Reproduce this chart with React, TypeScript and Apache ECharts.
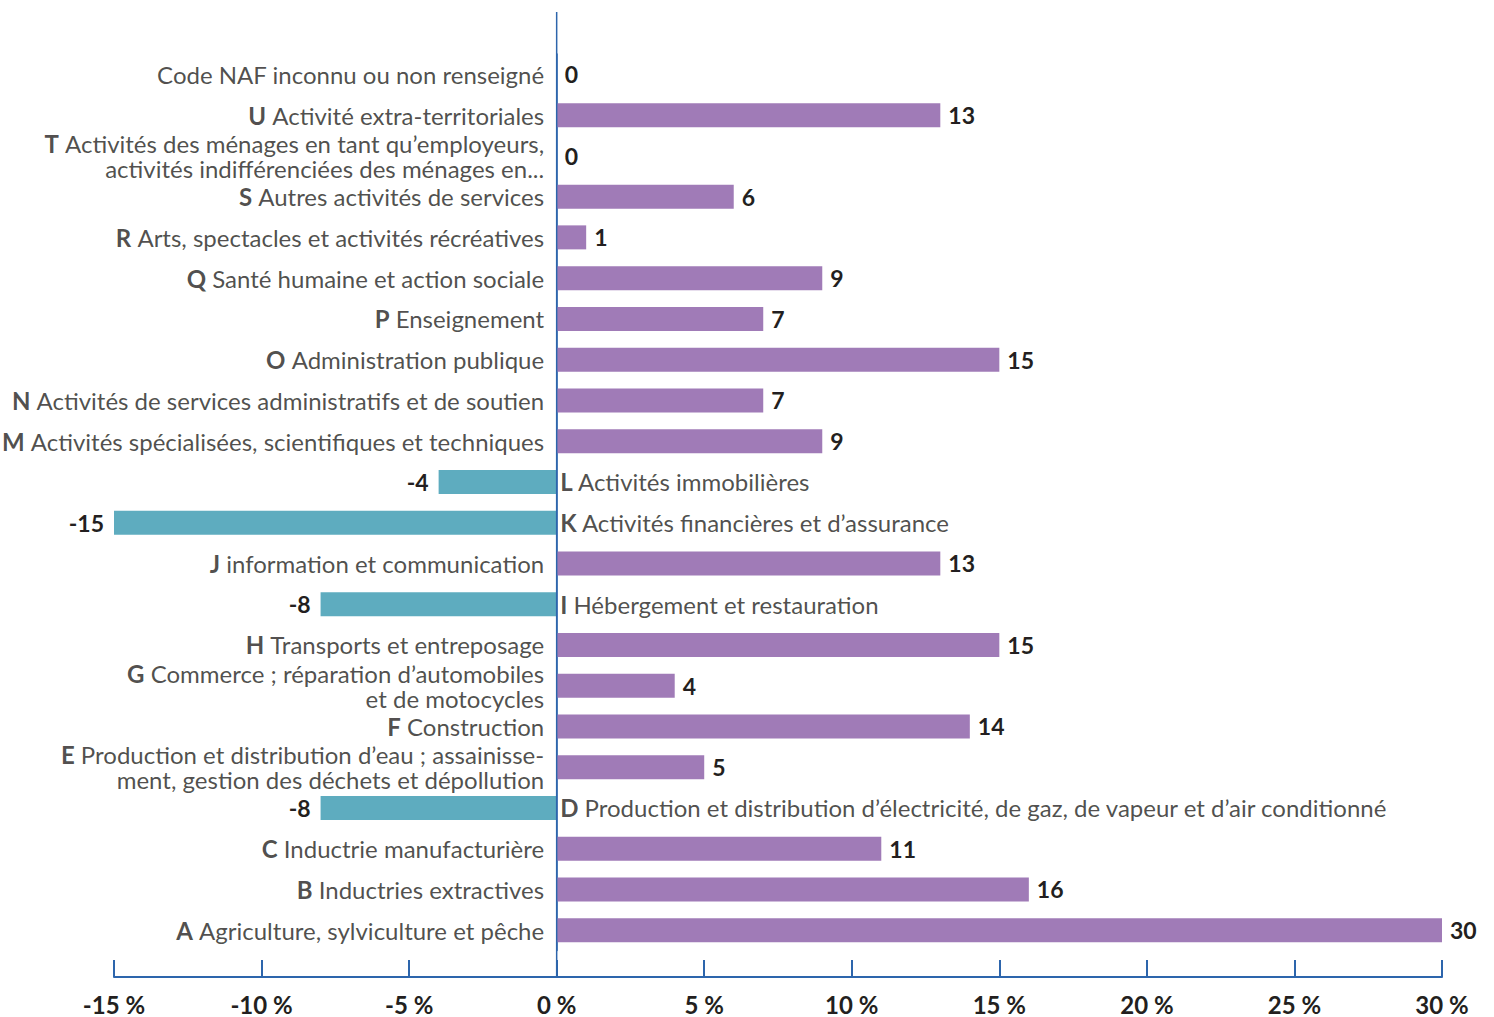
import React, { useEffect, useRef } from 'react';
import * as echarts from 'echarts';

// Section codes (NAF), top to bottom
const codes = ['', 'U', 'T', 'S', 'R', 'Q', 'P', 'O', 'N', 'M', 'L', 'K', 'J', 'I', 'H', 'G', 'F', 'E', 'D', 'C', 'B', 'A'];
// Section names
const names = [
  'Code NAF inconnu ou non renseigné',
  'Activité extra-territoriales',
  'Activités des ménages en tant qu’employeurs,\nactivités indifférenciées des ménages en...',
  'Autres activités de services',
  'Arts, spectacles et activités récréatives',
  'Santé humaine et action sociale',
  'Enseignement',
  'Administration publique',
  'Activités de services administratifs et de soutien',
  'Activités spécialisées, scientifiques et techniques',
  'Activités immobilières',
  'Activités financières et d’assurance',
  'information et communication',
  'Hébergement et restauration',
  'Transports et entreposage',
  'Commerce ; réparation d’automobiles\net de motocycles',
  'Construction',
  'Production et distribution d’eau ; assainisse-\nment, gestion des déchets et dépollution',
  'Production et distribution d’électricité, de gaz, de vapeur et d’air conditionné',
  'Inductrie manufacturière',
  'Inductries extractives',
  'Agriculture, sylviculture et pêche',
];
// Variation (%)
const values = [0, 13, 0, 6, 1, 9, 7, 15, 7, 9, -4, -15, 13, -8, 15, 4, 14, 5, -8, 11, 16, 30];
// X axis range
const xMin = -15;
const xMax = 30;
const xStep = 5;

const FONT = 'Lato';
const TEXT = '#231f20';
const AXIS = '#2d65ac';
const PURPLE = '#a07bb7';
const TEAL = '#5eacbf';

const richStyles = (align: string) => ({
  b: { fontFamily: FONT, fontSize: 24, fontWeight: 'bold', color: TEXT, align, lineHeight: 25 },
  n: { fontFamily: FONT, fontSize: 24, color: TEXT, align, lineHeight: 25 },
});

const richLabel = (i: number) => {
  const lines = names[i].split('\n');
  return lines
    .map((l, k) => (k === 0 && codes[i] ? `{b|${codes[i]}}{n| ${l}}` : `{n|${l}}`))
    .join('\n');
};

export default function App() {
  const ref = useRef<HTMLDivElement>(null);
  useEffect(() => {
    document.body.style.margin = '0';
    if (!ref.current) return;
    const chart = echarts.init(ref.current, null, { renderer: 'svg' });
    const categories = names.map((n, i) => (codes[i] ? codes[i] + ' ' : '') + n.replace('\n', ' '));
    const barData = values.map((v) => ({
      value: v,
      itemStyle: { color: v < 0 ? TEAL : PURPLE },
      label: { position: v < 0 ? 'left' : 'right', distance: v < 0 ? 10 : 8 },
    }));
    // category name anchors on the zero line: left of it for positive rows, right for negative rows
    const nameAnchors = values.map((v, i) => ({
      value: [0, i],
      label: v < 0
        ? { position: 'right', distance: 3, rich: richStyles('left') }
        : { position: 'left', distance: 12, rich: richStyles('right') },
    }));
    chart.setOption({
      animation: false,
      grid: { left: 114, right: 52, top: 54, bottom: 66.5, containLabel: false, outerBoundsMode: 'none' },
      xAxis: {
        type: 'value',
        min: xMin,
        max: xMax,
        interval: xStep,
        position: 'bottom',
        offset: 26.5,
        axisLine: { show: true, onZero: false, lineStyle: { color: AXIS, width: 2 } },
        axisTick: { show: true, inside: true, length: 17, lineStyle: { color: AXIS, width: 2 } },
        splitLine: { show: false },
        axisLabel: {
          formatter: (v: number) => `${v} %`,
          fontFamily: FONT,
          fontSize: 24,
          fontWeight: 'bold',
          color: TEXT,
          margin: 15,
        },
      },
      yAxis: {
        type: 'category',
        inverse: true,
        data: categories,
        axisLine: { show: true, onZero: true, lineStyle: { color: AXIS, width: 1.5 } },
        axisTick: { show: false },
        axisLabel: { show: false },
      },
      series: [
        {
          type: 'bar',
          data: barData,
          barWidth: 24,
          label: {
            show: true,
            formatter: '{c}',
            fontFamily: FONT,
            fontSize: 23,
            fontWeight: 'bold',
            color: TEXT,
          },
        },
        {
          type: 'scatter',
          data: nameAnchors,
          symbolSize: 1,
          itemStyle: { color: 'rgba(0,0,0,0)' },
          z: 5,
          label: {
            show: true,
            offset: [0, -4],
            formatter: (p: any) => richLabel(p.value[1]),
          },
          labelLayout: { hideOverlap: false },
        },
      ],
    });
    const x0 = chart.convertToPixel({ xAxisIndex: 0 }, 0) as number;
    chart.setOption({
      graphic: [
        {
          type: 'line',
          shape: { x1: x0, y1: 12, x2: x0, y2: 977 },
          style: { stroke: AXIS, lineWidth: 1.5 },
          z: 10,
        },
      ],
    });
    return () => chart.dispose();
  }, []);
  return <div ref={ref} style={{ width: 1494, height: 1017 }} />;
}
